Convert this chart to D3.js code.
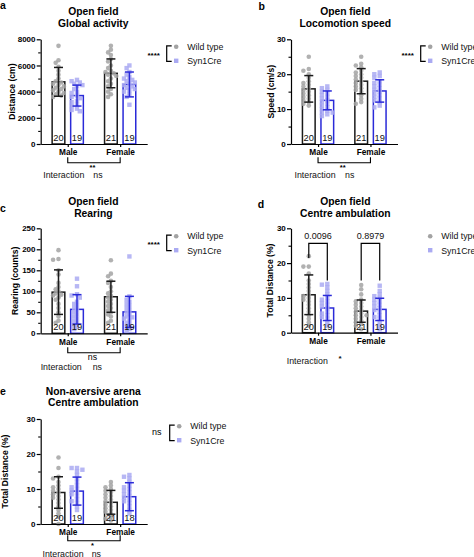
<!DOCTYPE html>
<html>
<head>
<meta charset="utf-8">
<script src="https://cdn.jsdelivr.net/npm/d3@7"></script>
<style>
  html, body { margin: 0; padding: 0; background: #fff; }
  svg { display: block; }
</style>
</head>
<body>
<script>
// ---------------- DATA ----------------
const sexes = ["Male", "Female"];
const genotypes = ["Wild type", "Syn1Cre"];
// order of groups: WT-Male, Syn-Male, WT-Female, Syn-Female

// a: Open field, global activity (cm)
const activityMeans = [4750, 3700, 5400, 4550];
const activitySD = [1100, 800, 1100, 950];
const activityN = [20, 19, 21, 19];
const activityPoints = [
  [7500, 6400, 6200, 5900, 5600, 5300, 5000, 4800, 4700, 4600, 4500, 4400, 4300, 4200, 4100, 4000, 3900, 3800, 3700, 3600],
  [4900, 4800, 4700, 4600, 4500, 4400, 4200, 4000, 3900, 3700, 3600, 3500, 3300, 3200, 3000, 2900, 2700, 2600, 2500],
  [7500, 7200, 7000, 6800, 6500, 6300, 6000, 5800, 5600, 5500, 5400, 5300, 5200, 5000, 4800, 4600, 4400, 4200, 4000, 3800, 3600],
  [6000, 5800, 5500, 5300, 5100, 5000, 4900, 4800, 4700, 4600, 4500, 4400, 4300, 4200, 4100, 4000, 3800, 3600, 3000]
];

// b: Open field, locomotion speed (cm/s)
const speedMeans = [15.8, 12.5, 18.0, 15.2];
const speedSD = [3.8, 2.7, 3.6, 3.2];
const speedN = [20, 19, 21, 19];
const speedPoints = [
  [25, 21.5, 21, 20, 19, 18, 17.5, 17, 16.5, 16, 15.5, 15, 14.5, 14, 13.5, 13, 12.5, 12, 11.5, 11],
  [16.5, 16, 15.5, 15, 14.5, 14, 13.5, 13, 12.5, 12, 11.5, 11, 10.5, 10, 9.5, 9, 9, 8.5, 8],
  [25, 23, 22.5, 22, 21, 20.5, 20, 19.5, 19, 18.5, 18, 17.5, 17, 16.5, 16, 15.5, 15, 14, 13, 12, 11.5],
  [20.5, 20, 19.5, 19, 18, 17.5, 17, 16.5, 16, 15.5, 15, 14.5, 14, 13.5, 13, 12.5, 12, 11, 10.5]
];

// c: Open field, rearing (counts)
const rearingMeans = [98, 57, 87, 51];
const rearingSD = [53, 35, 37, 37];
const rearingN = [20, 19, 21, 19];
const rearingPoints = [
  [198, 177, 175, 150, 140, 120, 110, 105, 100, 95, 92, 90, 85, 80, 70, 60, 50, 40, 30, 25],
  [130, 112, 93, 90, 85, 75, 70, 65, 60, 55, 50, 45, 40, 35, 30, 25, 20, 15, 10],
  [174, 142, 136, 125, 120, 110, 100, 95, 90, 85, 80, 75, 70, 65, 60, 55, 50, 45, 40, 30, 25],
  [183, 88, 80, 75, 70, 65, 60, 55, 50, 45, 40, 38, 35, 30, 25, 20, 15, 10, 5]
];

// d: Open field, centre ambulation (% total distance)
const centreMeans = [10.9, 7.1, 6.2, 6.7];
const centreSD = [5.7, 3.6, 3.2, 3.2];
const centreN = [20, 19, 21, 19];
const centrePoints = [
  [22, 19, 19, 17, 15, 14, 13, 12, 11, 10.5, 10, 9.5, 9, 8, 7, 6, 5, 4, 3, 2],
  [14, 13.8, 13, 12, 11, 10, 9.5, 9, 8.5, 8, 7.5, 7, 6, 5.5, 5, 4.5, 4, 3, 2],
  [13.7, 12.5, 11, 9.5, 9, 8.5, 8, 7.5, 7, 6.5, 6, 5.5, 5, 5, 4.5, 4, 3.5, 3, 2.5, 2, 1],
  [13.5, 12, 11, 10.5, 10, 9.5, 9, 8.5, 8, 7.5, 7, 6.5, 6, 5, 4.5, 4, 3, 2, 1]
];
const centrePValues = ["0.0096", "0.8979"];
const centreBracketLegs = [[21.5, 15], [15, 15]];

// e: Non-aversive arena, centre ambulation (% total distance)
const arenaMeans = [9.0, 9.4, 6.2, 7.8];
const arenaSD = [4.5, 4.0, 3.4, 4.0];
const arenaN = [20, 19, 21, 18];
const arenaPoints = [
  [19, 16, 13.5, 13, 12, 11, 10.5, 10, 9.5, 9, 8.5, 8, 7.5, 7, 6, 5, 4, 3, 2, 0],
  [16, 16, 15.5, 15, 14, 13, 12, 11, 10.5, 10, 9.5, 9, 8.5, 8, 7, 6.5, 6, 5, 4],
  [12, 11, 10.5, 10, 9.5, 9, 8.5, 8, 7.5, 7, 6.5, 6, 5.5, 5, 4.5, 4, 3.5, 3, 2, 1.5, 1],
  [14, 13.5, 13, 12, 11, 10.5, 10, 9.5, 9, 8.5, 8, 7.5, 7, 6.5, 6, 5, 4, 3]
];

// ---------------- STYLE ----------------
const FONT = "'Liberation Sans', Arial, Helvetica, sans-serif";
const WT_COLOR = "#1a1a1a";
const SYN_COLOR = "#2a2ad8";
const WT_DOT = "#a3a3a3";
const SYN_DOT = "#aaaaf2";

const svg = d3.select("body").append("svg")
  .attr("width", 474).attr("height", 557)
  .style("font-family", FONT);

// ---------------- PANELS (layout) ----------------
const panels = [
  { letter: "a", lx: 0, ly: 8.5, title: ["Open field", "Global activity"], tx: 93.3, ty: 14.8,
    x0: 40.7, yTop: 39.3, yBot: 144, max: 8000, major: 2000, minor: 1000,
    ylabel: "Distance (cm)", ylx: 14.8,
    means: activityMeans, sd: activitySD, n: activityN, points: activityPoints,
    legend: { sig: "****", bracket: true, x: 153.7, y: 46.8 },
    sex: { y: 162.7, label: "**", bold: true },
    inter: { x: 63.8, y: 178, val: "ns", vx: 93.3 } },
  { letter: "b", lx: 258.5, ly: 9.5, title: ["Open field", "Locomotion speed"], tx: 345.3, ty: 14.8,
    x0: 291, yTop: 39.3, yBot: 144, max: 30, major: 10, minor: 5,
    ylabel: "Speed  (cm/s)", ylx: 274.3,
    means: speedMeans, sd: speedSD, n: speedN, points: speedPoints,
    legend: { sig: "****", bracket: true, x: 407.7, y: 46.8 },
    sex: { y: 162.7, label: "**", bold: true },
    inter: { x: 315, y: 178, val: "ns", vx: 345 } },
  { letter: "c", lx: 0, ly: 211.5, title: ["Open field", "Rearing"], tx: 93.3, ty: 204.8,
    x0: 40.7, yTop: 228.3, yBot: 333.3, max: 250, major: 50, minor: 25,
    ylabel: "Rearing (counts)", ylx: 18,
    means: rearingMeans, sd: rearingSD, n: rearingN, points: rearingPoints,
    legend: { sig: "****", bracket: true, x: 153.7, y: 236.2 },
    sex: { y: 352.7, label: "ns", bold: false },
    inter: { x: 61.2, y: 370, val: "ns", vx: 92.7 } },
  { letter: "d", lx: 257.7, ly: 208.3, title: ["Open field", "Centre ambulation"], tx: 345.3, ty: 204.8,
    x0: 291, yTop: 228.3, yBot: 332.7, max: 30, major: 10, minor: 5,
    ylabel: "Total Distance (%)", ylx: 273.3,
    means: centreMeans, sd: centreSD, n: centreN, points: centrePoints,
    legend: { sig: null, bracket: false, x: 407.7, y: 236.2 },
    sex: null,
    pvals: { labels: centrePValues, legs: centreBracketLegs, y: 243.3 },
    inter: { x: 307.3, y: 364, val: "*", vx: 338.5 } },
  { letter: "e", lx: 0, ly: 395, title: ["Non-aversive arena", "Centre ambulation"], tx: 93.3, ty: 394.6,
    x0: 40.7, yTop: 419, yBot: 524, max: 30, major: 10, minor: 5,
    ylabel: "Total Distance (%)", ylx: 7.8,
    means: arenaMeans, sd: arenaSD, n: arenaN, points: arenaPoints,
    legend: { sig: "ns", bracket: true, x: 156.7, y: 426.2 },
    sex: { y: 540.7, label: "*", bold: true },
    inter: { x: 63, y: 556.5, val: "ns", vx: 91.7 } }
];

function swarm(vals, y, cx) {
  const placed = [];
  const cands = [0, -2.8, 2.8, -5.4, 5.4, -1.4, 1.4, -4.1, 4.1];
  return vals.slice().sort((a, b) => b - a).map(v => {
    const py = y(v);
    let best = null, bestD = -1;
    for (const c of cands) {
      const d = placed.length ? d3.min(placed, q => Math.hypot(q.x - c, q.y - py)) : 99;
      if (d >= 3.4) { best = c; break; }
      if (d > bestD) { bestD = d; best = c; }
    }
    placed.push({ x: best, y: py });
    return { v, x: cx + best, y: py };
  });
}

function drawPanel(p) {
  const g = svg.append("g");

  // letter
  g.append("text").attr("x", p.lx).attr("y", p.ly).text(p.letter)
    .attr("font-size", 10.5).attr("font-weight", "bold");

  // title
  p.title.forEach((t, i) => {
    g.append("text").attr("x", p.tx).attr("y", p.ty + i * 11.8).text(t)
      .attr("text-anchor", "middle").attr("font-size", 10.3).attr("font-weight", "bold");
  });

  const x = d3.scalePoint().domain(sexes).range([p.x0, p.x0 + 106.5]).padding(0.516);
  const sub = d3.scaleBand().domain(genotypes).range([-15.6, 15.6]).paddingInner(0.315);
  const y = d3.scaleLinear().domain([0, p.max]).range([p.yBot, p.yTop]);

  const rows = p.means.map((m, i) => ({
    sex: sexes[Math.floor(i / 2)], geno: genotypes[i % 2],
    mean: m, sd: p.sd[i], n: p.n[i], pts: p.points[i]
  }));

  // bars
  rows.forEach(r => {
    const bx = x(r.sex) + sub(r.geno);
    const col = r.geno === genotypes[0] ? WT_COLOR : SYN_COLOR;
    g.append("rect").attr("x", bx).attr("width", sub.bandwidth())
      .attr("y", y(r.mean)).attr("height", y(0) - y(r.mean))
      .attr("fill", "#fff").attr("stroke", col).attr("stroke-width", 1.5);
  });

  // dots
  rows.forEach(r => {
    const cx = x(r.sex) + sub(r.geno) + sub.bandwidth() / 2;
    const pts = swarm(r.pts, y, cx);
    if (r.geno === genotypes[0]) {
      g.selectAll(null).data(pts).enter().append("circle")
        .attr("cx", d => d.x).attr("cy", d => d.y).attr("r", 2.3)
        .attr("fill", WT_DOT).attr("fill-opacity", 0.85);
    } else {
      g.selectAll(null).data(pts).enter().append("rect")
        .attr("x", d => d.x - 2.2).attr("y", d => d.y - 2.2)
        .attr("width", 4.4).attr("height", 4.4)
        .attr("fill", SYN_DOT).attr("fill-opacity", 0.85);
    }
  });

  // error bars
  rows.forEach(r => {
    const cx = x(r.sex) + sub(r.geno) + sub.bandwidth() / 2;
    const col = r.geno === genotypes[0] ? WT_COLOR : SYN_COLOR;
    const lo = y(Math.max(0, r.mean - r.sd)), hi = y(r.mean + r.sd);
    const eg = g.append("g").attr("stroke", col).attr("stroke-width", 1.5);
    eg.append("line").attr("x1", cx).attr("x2", cx).attr("y1", lo).attr("y2", hi);
    eg.append("line").attr("x1", cx - 4.5).attr("x2", cx + 4.5).attr("y1", lo).attr("y2", lo);
    eg.append("line").attr("x1", cx - 4.5).attr("x2", cx + 4.5).attr("y1", hi).attr("y2", hi);
  });

  // n labels
  rows.forEach(r => {
    const cx = x(r.sex) + sub(r.geno) + sub.bandwidth() / 2;
    g.append("text").attr("x", cx).attr("y", y(0) - 3).text(r.n)
      .attr("text-anchor", "middle").attr("font-size", 9.3).attr("fill", "#111");
  });

  // y axis minor ticks
  const minorVals = d3.range(0, p.max + 1e-9, p.minor).filter(v => Math.abs(v / p.major - Math.round(v / p.major)) > 1e-9);
  g.append("g").attr("transform", `translate(${p.x0},0)`)
    .call(d3.axisLeft(y).tickValues(minorVals).tickSize(2.5).tickSizeOuter(0).tickFormat(""))
    .call(s => s.select(".domain").remove())
    .call(s => s.selectAll("line").attr("stroke", "#000").attr("stroke-width", 1.1));

  // y axis
  g.append("g").attr("transform", `translate(${p.x0},0)`)
    .call(d3.axisLeft(y).tickValues(d3.range(0, p.max + 1e-9, p.major)).tickFormat(d3.format("d"))
      .tickSize(4).tickSizeOuter(0).tickPadding(1.2))
    .call(s => s.select(".domain").attr("stroke", "#000").attr("stroke-width", 1.2))
    .call(s => s.selectAll("line").attr("stroke", "#000").attr("stroke-width", 1.2))
    .call(s => s.selectAll("text").attr("font-family", FONT).attr("font-size", 8).attr("font-weight", "bold").attr("fill", "#000"));

  // x axis
  g.append("g").attr("transform", `translate(0,${p.yBot})`)
    .call(d3.axisBottom(x).tickSize(3).tickSizeOuter(0).tickPadding(2.5))
    .call(s => s.select(".domain").attr("stroke", "#000").attr("stroke-width", 1.2))
    .call(s => s.selectAll("line").attr("stroke", "#000").attr("stroke-width", 1.2))
    .call(s => s.selectAll("text").attr("font-family", FONT).attr("font-size", 8.3).attr("font-weight", "bold").attr("fill", "#000"));

  // y label
  const cy = (p.yTop + p.yBot) / 2;
  g.append("text").attr("transform", `translate(${p.ylx},${cy}) rotate(-90)`)
    .attr("text-anchor", "middle").attr("font-size", 8.6).attr("font-weight", "bold").text(p.ylabel);

  // legend
  const L = p.legend;
  if (L.sig) {
    g.append("text").attr("x", L.x).attr("y", L.y + (L.sig === "ns" ? 9 : 11)).text(L.sig)
      .attr("text-anchor", "middle").attr("font-size", L.sig === "ns" ? 9 : 8)
      .attr("font-weight", L.sig === "ns" ? "normal" : "bold");
  }
  const bxL = L.x + 13;
  if (L.bracket) {
    g.append("path").attr("d", `M${bxL + 5},${L.y - 1} H${bxL} V${L.y + 14.5} H${bxL + 5}`)
      .attr("fill", "none").attr("stroke", "#000").attr("stroke-width", 1.2);
  }
  const mx = bxL + 9.5;
  g.append("circle").attr("cx", mx).attr("cy", L.y).attr("r", 2.3).attr("fill", WT_DOT);
  g.append("rect").attr("x", mx - 2.2).attr("y", L.y + 14 - 2.2).attr("width", 4.4).attr("height", 4.4).attr("fill", SYN_DOT);
  genotypes.forEach((gname, i) => {
    g.append("text").attr("x", mx + 11).attr("y", L.y + 3.2 + i * 14.3).text(gname)
      .attr("font-size", 8.8).attr("fill", "#111");
  });

  // sex-effect bracket
  if (p.sex) {
    const x1 = x(sexes[0]), x2 = x(sexes[1]);
    g.append("path").attr("d", `M${x1},${p.sex.y - 5.5} V${p.sex.y} H${x2} V${p.sex.y - 5.5}`)
      .attr("fill", "none").attr("stroke", "#000").attr("stroke-width", 1.1);
    g.append("text").attr("x", (x1 + x2) / 2 - 1.5)
      .attr("y", p.sex.y + (p.sex.bold ? 7.3 : 7.5))
      .text(p.sex.label).attr("text-anchor", "middle")
      .attr("font-size", p.sex.bold ? 7.5 : 8.8).attr("font-weight", p.sex.bold ? "bold" : "normal");
  }

  // p-value brackets (panel d)
  if (p.pvals) {
    sexes.forEach((s, i) => {
      const xa = x(s) + sub(genotypes[0]) + sub.bandwidth() / 2;
      const xb = x(s) + sub(genotypes[1]) + sub.bandwidth() / 2;
      const legs = p.pvals.legs[i];
      g.append("path").attr("d", `M${xa},${y(legs[0])} V${p.pvals.y} H${xb} V${y(legs[1])}`)
        .attr("fill", "none").attr("stroke", "#000").attr("stroke-width", 1.2);
      g.append("text").attr("x", (xa + xb) / 2).attr("y", p.pvals.y - 4.5).text(p.pvals.labels[i])
        .attr("text-anchor", "middle").attr("font-size", 9).attr("fill", "#111");
    });
  }

  // interaction
  g.append("text").attr("x", p.inter.x).attr("y", p.inter.y).text("Interaction")
    .attr("text-anchor", "middle").attr("font-size", 8.8).attr("fill", "#111");
  g.append("text").attr("x", p.inter.vx).attr("y", p.inter.y - (p.inter.val === "*" ? 3 : 0)).text(p.inter.val)
    .attr("font-size", p.inter.val === "*" ? 8 : 8.8)
    .attr("font-weight", p.inter.val === "*" ? "bold" : "normal").attr("fill", "#111");
}

panels.forEach(drawPanel);
</script>
</body>
</html>
